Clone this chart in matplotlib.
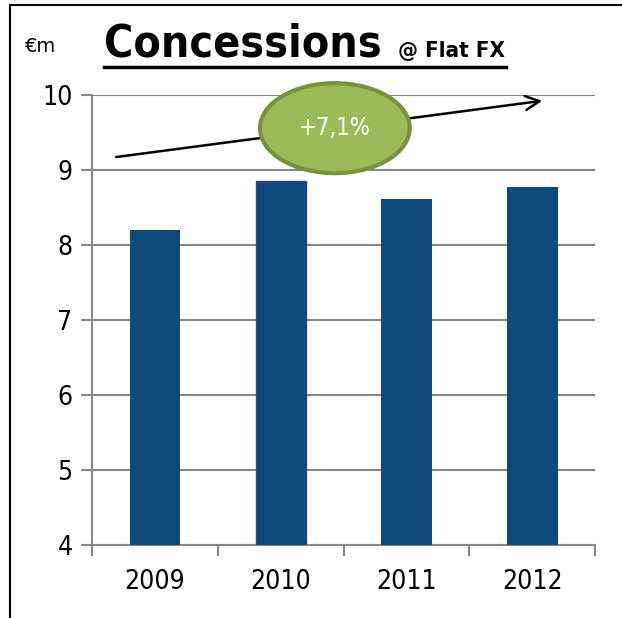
import matplotlib.pyplot as plt
from matplotlib.patches import Ellipse
from matplotlib.lines import Line2D

years = ["2009", "2010", "2011", "2012"]
values = [8.2, 8.85, 8.62, 8.77]
yticks = [4, 5, 6, 7, 8, 9, 10]
growth_label = "+7,1%"

plt.rcParams['font.family'] = ['DejaVu Sans']

fig = plt.figure(figsize=(6.22, 6.18), dpi=100)
ax = fig.add_axes([0.148, 0.118, 0.809, 0.728])

x = range(len(years))
bars = ax.bar(x, values, width=0.4, color="#0D4A7C", zorder=3)
bars[1].set_edgecolor("#3A3A90")
bars[1].set_linewidth(1.0)

ax.set_xlim(-0.5, len(years) - 0.5)
ax.set_ylim(4, 10)
ax.set_yticks(yticks)
ax.set_yticklabels([str(t) for t in yticks], fontsize=19, stretch="condensed")
ax.set_xticks([i - 0.5 for i in range(len(years) + 1)], minor=False)
ax.set_xticklabels([])
ax.set_xticks(list(x), minor=True)
ax.set_xticklabels(years, minor=True, fontsize=19, stretch="condensed")
ax.tick_params(axis="x", which="minor", length=0, pad=17)
ax.tick_params(axis="x", which="major", length=8, width=1.5, color="#888888", direction="out")
ax.tick_params(axis="y", length=8, width=1.5, color="#888888", pad=6)

ax.grid(axis="y", color="#888888", linewidth=1.5, zorder=0)
for s in ["top", "right"]:
    ax.spines[s].set_visible(False)
for s in ["left", "bottom"]:
    ax.spines[s].set_color("#888888")
    ax.spines[s].set_linewidth(1.5)

# growth arrow and bubble
ax.annotate("", xy=(3.1, 9.93), xytext=(-0.33, 9.17),
            arrowprops=dict(arrowstyle="->", color="black", lw=1.8,
                            mutation_scale=25),
            annotation_clip=False, zorder=4)
ell = Ellipse((1.43, 9.56), 1.19, 1.2, facecolor="#9BBB59",
              edgecolor="#77933C", linewidth=3, clip_on=False, zorder=5)
ax.add_patch(ell)
ax.text(1.43, 9.56, growth_label, ha="center", va="center", color="white",
        fontsize=17, stretch="condensed", zorder=6)

# title
fig.text(0.040, 0.916, "€m", fontsize=14, va="baseline")
fig.text(0.168, 0.908, "Concessions", fontsize=32, fontweight="bold",
         stretch="condensed", va="baseline")
fig.text(0.640, 0.908, "@ Flat FX", fontsize=16, fontweight="bold",
         stretch="condensed", va="baseline")
fig.add_artist(Line2D([0.168, 0.813], [0.892, 0.892], color="black", lw=2.5))

# frame lines
fig.add_artist(Line2D([0.016, 1.0], [0.992, 0.992], color="black", lw=1.5))
fig.add_artist(Line2D([0.016, 0.016], [0.0, 0.992], color="black", lw=1.5))

fig.savefig("out.png", dpi=100)
